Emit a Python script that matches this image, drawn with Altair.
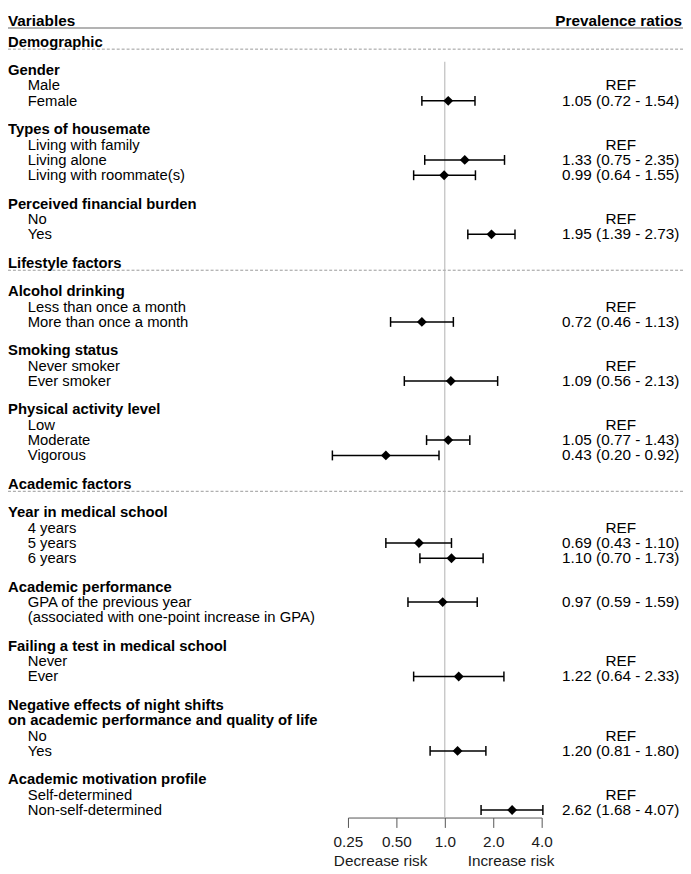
import altair as alt
import pandas as pd

# ---------------- data ----------------
section_names = ["Demographic", "Lifestyle factors", "Academic factors"]

group_titles = [
    ["Gender"],
    ["Types of housemate"],
    ["Perceived financial burden"],
    ["Alcohol drinking"],
    ["Smoking status"],
    ["Physical activity level"],
    ["Year in medical school"],
    ["Academic performance"],
    ["Failing a test in medical school"],
    ["Negative effects of night shifts", "on academic performance and quality of life"],
    ["Academic motivation profile"],
]
group_section = [0, 0, 0, 1, 1, 1, 2, 2, 2, 2, 2]

item_group = [0, 0, 1, 1, 1, 2, 2, 3, 3, 4, 4, 5, 5, 5, 6, 6, 6, 7, 8, 8, 9, 9, 10, 10]
item_labels = [
    ["Male"], ["Female"],
    ["Living with family"], ["Living alone"], ["Living with roommate(s)"],
    ["No"], ["Yes"],
    ["Less than once a month"], ["More than once a month"],
    ["Never smoker"], ["Ever smoker"],
    ["Low"], ["Moderate"], ["Vigorous"],
    ["4 years"], ["5 years"], ["6 years"],
    ["GPA of the previous year", "(associated with one-point increase in GPA)"],
    ["Never"], ["Ever"],
    ["No"], ["Yes"],
    ["Self-determined"], ["Non-self-determined"],
]
pr_est = [None, 1.05, None, 1.33, 0.99, None, 1.95, None, 0.72, None, 1.09, None, 1.05, 0.43,
          None, 0.69, 1.10, 0.97, None, 1.22, None, 1.20, None, 2.62]
pr_lo = [None, 0.72, None, 0.75, 0.64, None, 1.39, None, 0.46, None, 0.56, None, 0.77, 0.20,
         None, 0.43, 0.70, 0.59, None, 0.64, None, 0.81, None, 1.68]
pr_hi = [None, 1.54, None, 2.35, 1.55, None, 2.73, None, 1.13, None, 2.13, None, 1.43, 0.92,
         None, 1.10, 1.73, 1.59, None, 2.33, None, 1.80, None, 4.07]

axis_ticks = [0.25, 0.5, 1.0, 2.0, 4.0]

# ---------------- layout of rows (in line units) ----------------
GAP = 1.858
HEADER_SLOT = -1.355

sec_rows, grp_rows, item_rows, right_rows, forest_rows = [], [], [], [], []
cur = None
for s, sname in enumerate(section_names):
    cur = 0.0 if cur is None else cur + GAP
    sec_rows.append({"text": sname, "slot": cur})
    for g, titles in enumerate(group_titles):
        if group_section[g] != s:
            continue
        for k, t in enumerate(titles):
            cur = cur + (GAP if k == 0 else 1)
            grp_rows.append({"text": t, "slot": cur})
        for i, lines in enumerate(item_labels):
            if item_group[i] != g:
                continue
            for k, t in enumerate(lines):
                cur += 1
                item_rows.append({"text": t, "slot": cur})
                if k == 0:
                    if pr_est[i] is None:
                        right_rows.append({"text": "REF", "slot": cur})
                    else:
                        right_rows.append({
                            "text": f"{pr_est[i]:.2f} ({pr_lo[i]:.2f} - {pr_hi[i]:.2f})",
                            "slot": cur})
                        forest_rows.append({"pr": pr_est[i], "lo": pr_lo[i],
                                            "hi": pr_hi[i], "slot": cur})
last_slot = cur

sec_df = pd.DataFrame(sec_rows)
grp_df = pd.DataFrame(grp_rows)
item_df = pd.DataFrame(item_rows)
right_df = pd.DataFrame(right_rows)
forest_df = pd.DataFrame(forest_rows)

# ---------------- scales ----------------
W, H = 683, 814
FONT = "Liberation Sans"
FS = 15
axis_slot = last_slot + 0.49
y_scale = alt.Scale(domain=[-1.871, axis_slot], reverse=True, nice=False, zero=False)
x_scale = alt.Scale(type="log", domain=[0.25, 4], range=[344, 540], nice=False)

Y = alt.Y("slot:Q", scale=y_scale, axis=None)

def txt(df, x, bold=False, align="left", size=FS):
    return alt.Chart(df).mark_text(
        align=align, baseline="middle", font=FONT, fontSize=size,
        fontWeight="bold" if bold else "normal", color="black"
    ).encode(x=alt.value(x), y=Y, text="text:N")

header_df = pd.DataFrame({"text": ["Variables"], "slot": [HEADER_SLOT]})
header_r_df = pd.DataFrame({"text": ["Prevalence ratios"], "slot": [HEADER_SLOT]})

header_l = txt(header_df, 0, bold=True, size=15.5)
header_r = txt(header_r_df, 682, bold=True, align="right", size=15.5)
header_line = alt.Chart(header_df).mark_rule(color="#b3b3b3", strokeWidth=2, yOffset=7).encode(
    x=alt.value(0), x2=alt.value(W), y=Y)

sections = txt(sec_df, 0, bold=True)
sec_lines = alt.Chart(sec_df).mark_rule(color="#9a9a9a", strokeWidth=1, strokeDash=[3, 2],
                                        yOffset=7.5).encode(
    x=alt.value(0), x2=alt.value(W), y=Y)
groups = txt(grp_df, 0, bold=True)
items = txt(item_df, 20)
right = txt(right_df, 620, align="center", size=15.5)

ref_df = pd.DataFrame({"v": [1.0], "slot": [GAP - 0.55]})
ref_line = alt.Chart(ref_df).mark_rule(color="#b0b0b0", strokeWidth=1).encode(
    x=alt.X("v:Q", scale=x_scale),
    y=Y,
    y2=alt.value(H),
)

ci = alt.Chart(forest_df).mark_rule(color="black", strokeWidth=1.5).encode(
    x=alt.X("lo:Q", scale=x_scale, title=None,
            axis=alt.Axis(values=axis_ticks, grid=False, tickSize=10, domainColor="#555555",
                          tickColor="#555555", labelFontSize=15.5, labelFont=FONT,
                          labelColor="#1a1a1a", labelPadding=7, tickWidth=1, domainWidth=1,
                          labelFlush=False, labelOverlap=False, labelBound=False,
                          labelExpr="datum.value < 1 ? format(datum.value, '.2f') : format(datum.value, '.1f')")),
    x2="hi:Q", y=Y)
cap_lo = alt.Chart(forest_df).mark_rule(color="black", strokeWidth=1.5, yOffset=-5, y2Offset=5).encode(
    x=alt.X("lo:Q", scale=x_scale), y=Y, y2="slot:Q")
cap_hi = alt.Chart(forest_df).mark_rule(color="black", strokeWidth=1.5, yOffset=-5, y2Offset=5).encode(
    x=alt.X("hi:Q", scale=x_scale), y=Y, y2="slot:Q")
points = alt.Chart(forest_df).mark_point(shape="diamond", filled=True, size=100, color="black",
                                         opacity=1).encode(
    x=alt.X("pr:Q", scale=x_scale), y=Y)

risk_df = pd.DataFrame({"text": ["Decrease risk", "Increase risk"]})
dec = alt.Chart(risk_df.iloc[[0]]).mark_text(font=FONT, fontSize=15.5, color="#1a1a1a",
                                              baseline="middle", align="center").encode(
    x=alt.value(377), y=alt.value(858), text="text:N")
inc = alt.Chart(risk_df.iloc[[1]]).mark_text(font=FONT, fontSize=15.5, color="#1a1a1a",
                                              baseline="middle", align="center").encode(
    x=alt.value(509), y=alt.value(858), text="text:N")

chart = alt.layer(
    header_line, sec_lines, ref_line, ci, cap_lo, cap_hi, points,
    header_l, header_r, sections, groups, items, right, dec, inc
).properties(
    width=W, height=H,
    padding={"left": 0, "right": 0, "top": 0, "bottom": 52},
    autosize=alt.AutoSizeParams(type="none"),
).configure_view(stroke=None)

chart.save("out.html", embed_options={"renderer": "svg", "actions": False})
